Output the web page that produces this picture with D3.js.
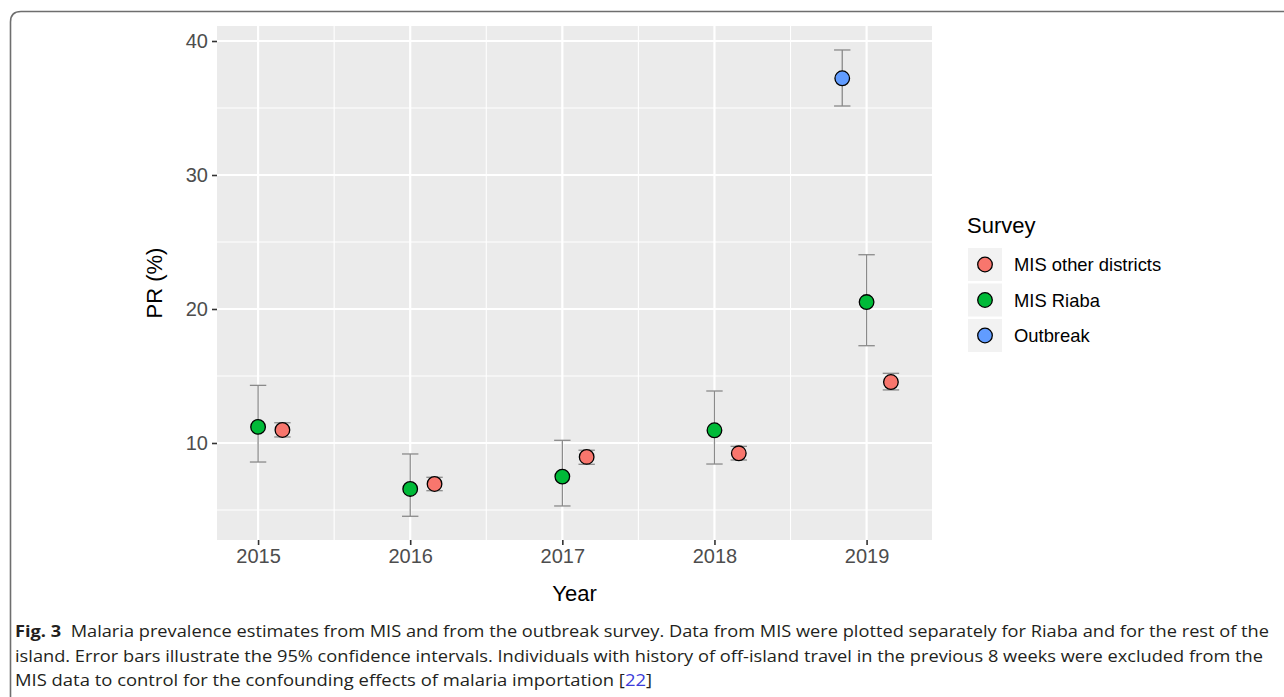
<!DOCTYPE html>
<html>
<head>
<meta charset="utf-8">
<script src="https://cdn.jsdelivr.net/npm/d3@7"></script>
<style>
  html, body { margin: 0; padding: 0; background: #fff; }
  svg { display: block; }
</style>
</head>
<body>
<svg id="chart" width="1284" height="697"></svg>
<script>
// ---- data ----
const years = [2015, 2016, 2017, 2018, 2019];
const yTicks = [10, 20, 30, 40];
const seriesNames = ["MIS other districts", "MIS Riaba", "Outbreak"];
const seriesColors = ["#F8766D", "#00BA38", "#619CFF"];

// MIS Riaba: prevalence and 95% CI
const riabaPR = [11.2, 6.57, 7.49, 10.95, 20.52];
const riabaLo = [8.58, 4.53, 5.30, 8.43, 17.26];
const riabaHi = [14.3, 9.18, 10.2, 13.88, 24.05];

// MIS other districts
const otherPR = [10.97, 6.94, 8.96, 9.23, 14.55];
const otherLo = [10.45, 6.44, 8.41, 8.73, 13.96];
const otherHi = [11.51, 7.44, 9.46, 9.75, 15.2];

// Outbreak survey (2019 only)
const outbreakYears = [2019];
const outbreakPR = [37.22];
const outbreakLo = [35.15];
const outbreakHi = [39.33];

const captionLines = [
  "Malaria prevalence estimates from MIS and from the outbreak survey. Data from MIS were plotted separately for Riaba and for the rest of the",
  "island. Error bars illustrate the 95% confidence intervals. Individuals with history of off-island travel in the previous 8 weeks were excluded from the",
  "MIS data to control for the confounding effects of malaria importation ["
];

// ---- layout ----
const svg = d3.select("#chart");
const panel = { left: 217, right: 932, top: 26, bottom: 540 };
const dodge = { "MIS other districts": 0.16, "MIS Riaba": 0, "Outbreak": -0.16 };

const x = d3.scaleLinear().domain([2014.73, 2019.43]).range([panel.left, panel.right]);
const y = d3.scaleLinear().domain([2.76, 41.12]).range([panel.bottom, panel.top]);

const font = "'Liberation Sans', Arial, Helvetica, sans-serif";

// outer figure frame (rounded top-left corner)
svg.append("path")
  .attr("d", "M10.5,700 L10.5,22 Q10.5,11.5 21,11.5 L1290,11.5")
  .attr("fill", "none")
  .attr("stroke", "#6e6e6e")
  .attr("stroke-width", 1.6);

// panel background
svg.append("rect")
  .attr("x", panel.left).attr("y", panel.top)
  .attr("width", panel.right - panel.left).attr("height", panel.bottom - panel.top)
  .attr("fill", "#EBEBEB");

const grid = svg.append("g");

// minor gridlines
const minorX = d3.pairs(years).map(p => (p[0] + p[1]) / 2);
const minorY = [5, 15, 25, 35];
grid.selectAll(".minx").data(minorX).join("line")
  .attr("x1", d => x(d)).attr("x2", d => x(d))
  .attr("y1", panel.top).attr("y2", panel.bottom)
  .attr("stroke", "#fff").attr("stroke-width", 1.1);
grid.selectAll(".miny").data(minorY).join("line")
  .attr("y1", d => y(d)).attr("y2", d => y(d))
  .attr("x1", panel.left).attr("x2", panel.right)
  .attr("stroke", "#fff").attr("stroke-width", 1.1);

// major gridlines
grid.selectAll(".majx").data(years).join("line")
  .attr("x1", d => x(d)).attr("x2", d => x(d))
  .attr("y1", panel.top).attr("y2", panel.bottom)
  .attr("stroke", "#fff").attr("stroke-width", 2.2);
grid.selectAll(".majy").data(yTicks).join("line")
  .attr("y1", d => y(d)).attr("y2", d => y(d))
  .attr("x1", panel.left).attr("x2", panel.right)
  .attr("stroke", "#fff").attr("stroke-width", 2.2);

// axes
const xAxis = d3.axisBottom(x).tickValues(years).tickFormat(d3.format("d")).tickSize(5).tickPadding(4);
const yAxis = d3.axisLeft(y).tickValues(yTicks).tickSize(5).tickPadding(4);

const gx = svg.append("g").attr("transform", `translate(0,${panel.bottom})`).call(xAxis);
const gy = svg.append("g").attr("transform", `translate(${panel.left},0)`).call(yAxis);
[gx, gy].forEach(g => {
  g.select(".domain").remove();
  g.selectAll(".tick line").attr("stroke", "#333").attr("stroke-width", 1.6);
  g.selectAll(".tick text").attr("fill", "#4D4D4D").style("font-family", font).style("font-size", "20px");
});

// axis titles
svg.append("text")
  .attr("x", (panel.left + panel.right) / 2).attr("y", 601)
  .attr("text-anchor", "middle")
  .style("font-family", font).style("font-size", "22px").attr("fill", "#000")
  .text("Year");
svg.append("text")
  .attr("transform", `translate(162,${(panel.top + panel.bottom) / 2}) rotate(-90)`)
  .attr("text-anchor", "middle")
  .style("font-family", font).style("font-size", "22px").attr("fill", "#000")
  .text("PR (%)");

// assemble series rows
const series = [
  { name: "MIS other districts", color: seriesColors[0], rows: years.map((yr, i) => ({ yr, pr: otherPR[i], lo: otherLo[i], hi: otherHi[i] })) },
  { name: "MIS Riaba", color: seriesColors[1], rows: years.map((yr, i) => ({ yr, pr: riabaPR[i], lo: riabaLo[i], hi: riabaHi[i] })) },
  { name: "Outbreak", color: seriesColors[2], rows: outbreakYears.map((yr, i) => ({ yr, pr: outbreakPR[i], lo: outbreakLo[i], hi: outbreakHi[i] })) }
];

const capHalf = 8.2;
series.forEach(s => {
  const g = svg.append("g");
  const px = d => x(d.yr + dodge[s.name]);
  // error bars
  g.selectAll(".stem").data(s.rows).join("line")
    .attr("x1", px).attr("x2", px)
    .attr("y1", d => y(d.lo)).attr("y2", d => y(d.hi))
    .attr("stroke", "#8a8a8a").attr("stroke-width", 1.3);
  ["lo", "hi"].forEach(k => {
    g.selectAll(".cap" + k).data(s.rows).join("line")
      .attr("x1", d => px(d) - capHalf).attr("x2", d => px(d) + capHalf)
      .attr("y1", d => y(d[k])).attr("y2", d => y(d[k]))
      .attr("stroke", "#8a8a8a").attr("stroke-width", 1.3);
  });
  // points
  g.selectAll("circle").data(s.rows).join("circle")
    .attr("cx", px).attr("cy", d => y(d.pr))
    .attr("r", 7.3)
    .attr("fill", s.color)
    .attr("stroke", "#000").attr("stroke-width", 1.3);
});

// legend
const lg = svg.append("g");
lg.append("text")
  .attr("x", 967).attr("y", 233)
  .style("font-family", font).style("font-size", "22px").attr("fill", "#000")
  .text("Survey");
const keyTop = 248, keyStep = 35.5, keySize = 33;
seriesNames.forEach((name, i) => {
  const ky = keyTop + i * keyStep;
  lg.append("rect")
    .attr("x", 968).attr("y", ky).attr("width", 34).attr("height", keySize)
    .attr("fill", "#F2F2F2");
  lg.append("circle")
    .attr("cx", 985).attr("cy", ky + keySize / 2).attr("r", 7.3)
    .attr("fill", seriesColors[i]).attr("stroke", "#000").attr("stroke-width", 1.3);
  lg.append("text")
    .attr("x", 1014).attr("y", ky + keySize / 2 + 6.5)
    .style("font-family", font).style("font-size", "18.4px").attr("fill", "#000")
    .text(name);
});

// caption
const capFont = "'Open Sans', 'Noto Sans', sans-serif";
const capWidths = [1254, 1248, 637];
const capBase = [637, 661.5, 686];
captionLines.forEach((line, i) => {
  const t = svg.append("text")
    .attr("x", 15).attr("y", capBase[i])
    .attr("textLength", capWidths[i]).attr("lengthAdjust", "spacingAndGlyphs")
    .style("font-family", capFont).style("font-size", "16.5px").attr("fill", "#231f20");
  if (i === 0) {
    t.append("tspan").style("font-weight", "bold").text("Fig. 3");
    t.append("tspan").text("\u00a0\u00a0" + line);
  } else if (i === 2) {
    t.append("tspan").text(line);
    t.append("tspan").attr("fill", "#3b3bd9").text("22");
    t.append("tspan").text("]");
  } else {
    t.text(line);
  }
});
</script>
</body>
</html>
